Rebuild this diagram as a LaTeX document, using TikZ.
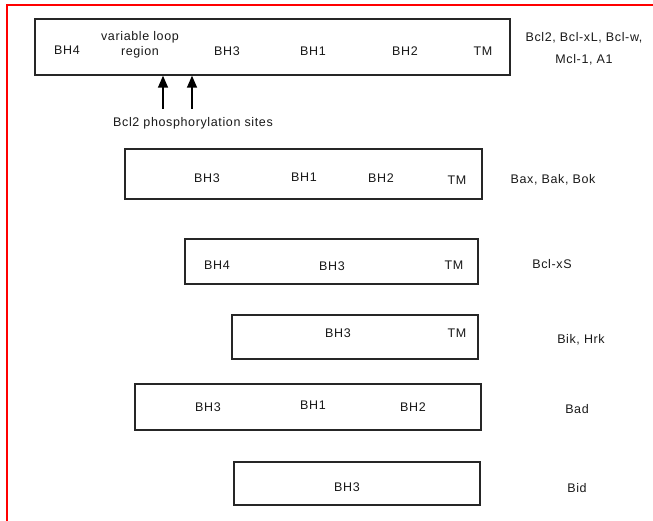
\documentclass[tikz,border=0pt]{standalone}
\usepackage{fontspec}
\setmainfont[LetterSpace=5]{Liberation Sans}
\usetikzlibrary{arrows.meta}
\begin{document}
\begin{tikzpicture}[x=1pt,y=-1pt,
  dom/.style={draw=black!85,line width=1.4pt,rectangle,inner sep=0pt,fill=white},
  lbl/.style={text=black!90,font=\fontsize{12.5}{14}\selectfont,inner sep=0pt,anchor=center},
  arr/.style={line width=1.5pt,draw=black,-{Triangle[length=12pt,width=10pt]}}]
\useasboundingbox (0,0) rectangle (653,521);
\draw[red,line width=2pt] (653,5.5) -- (6.5,5.5) -- (6.5,521);
% box 1
\node[dom,minimum width=475pt,minimum height=56pt] (b1) at (272.5,47) {};
\node[lbl] (b1h4) at (67,50) {BH4};
\node[lbl,align=center,font=\fontsize{12.5}{15}\selectfont] (b1vl) at (140,45) {variable loop\\region};
\node[lbl] (b1h3) at (227,51) {BH3};
\node[lbl] (b1h1) at (313,51) {BH1};
\node[lbl] (b1h2) at (405,51) {BH2};
\node[lbl] (b1tm) at (483,51) {TM};
\node[lbl,align=center,font=\fontsize{12.5}{22}\selectfont] (l1) at (584,49) {Bcl2, Bcl-xL, Bcl-w,\\ Mcl-1, A1};
\coordinate (a1) at (163,109);
\coordinate (a2) at (192,109);
\draw[arr] (a1) -- (a1 |- b1.south);
\draw[arr] (a2) -- (a2 |- b1.south);
\node[lbl] (phos) at (193,123) {Bcl2 phosphorylation sites};
% box 2
\node[dom,minimum width=357pt,minimum height=50pt] (b2) at (303.5,174) {};
\node[lbl] (b2h3) at (207,178) {BH3};
\node[lbl] (b2h1) at (304,177) {BH1};
\node[lbl] (b2h2) at (381,178) {BH2};
\node[lbl] (b2tm) at (457,180) {TM};
\node[lbl] (l2) at (553,180) {Bax, Bak, Bok};
% box 3
\node[dom,minimum width=293pt,minimum height=45pt] (b3) at (331.5,261.5) {};
\node[lbl] (b3h4) at (217,265) {BH4};
\node[lbl] (b3h3) at (332,266) {BH3};
\node[lbl] (b3tm) at (454,265) {TM};
\node[lbl] (l3) at (552,264) {Bcl-xS};
% box 4
\node[dom,minimum width=246pt,minimum height=44pt] (b4) at (355,337) {};
\node[lbl] (b4h3) at (338,333) {BH3};
\node[lbl] (b4tm) at (457,333) {TM};
\node[lbl] (l4) at (581,340) {Bik, Hrk};
% box 5
\node[dom,minimum width=346pt,minimum height=46pt] (b5) at (308,407) {};
\node[lbl] (b5h3) at (208,407) {BH3};
\node[lbl] (b5h1) at (313,405) {BH1};
\node[lbl] (b5h2) at (413,407) {BH2};
\node[lbl] (l5) at (577,409) {Bad};
% box 6
\node[dom,minimum width=246pt,minimum height=43pt] (b6) at (357,483.5) {};
\node[lbl] (b6h3) at (347,487) {BH3};
\node[lbl] (l6) at (577,488) {Bid};
\end{tikzpicture}
\end{document}
